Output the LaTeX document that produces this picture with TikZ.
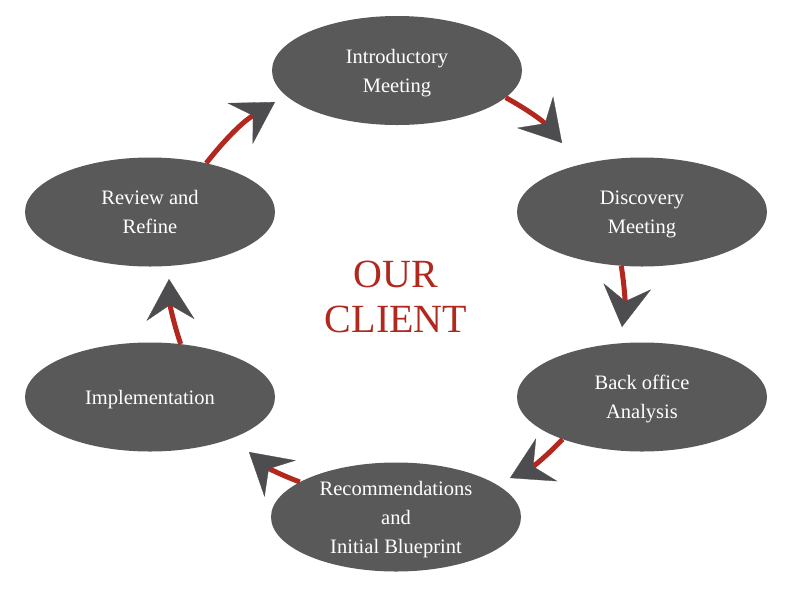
\documentclass[tikz,border=0pt]{standalone}
\usepackage{fontspec}
\setmainfont{Liberation Serif}
\usetikzlibrary{arrows.meta,shapes.geometric}
\definecolor{ellgray}{HTML}{595959}
\definecolor{arrgray}{HTML}{4D4D4F}
\definecolor{linered}{HTML}{B2281E}
\definecolor{titlered}{HTML}{B0281E}
\begin{document}
\begin{tikzpicture}[x=1pt,y=-1pt,
  stage/.style={ellipse,fill=ellgray,draw=none,minimum width=250pt,minimum height=109pt,inner sep=0pt,
    text=white,align=center,text depth=0pt,font=\fontsize{20.5}{29}\selectfont},
  conn/.style={draw=linered,line width=5pt,
    -{Stealth[length=41pt,width=48pt,inset=15pt,color=arrgray,line width=0.3pt]}},
  title/.style={text=titlered,align=center,font=\fontsize{40}{45}\selectfont}]
\useasboundingbox (0,0) rectangle (795,595);
\node[stage] (intro) at (397,70.5) {Introductory\\Meeting};
\node[stage] (disc) at (642,212) {Discovery\\Meeting};
\node[stage] (back) at (642,397) {Back office\\Analysis};
\node[stage] (rec) at (396,517) {Recommendations\\and\\Initial Blueprint};
\node[stage] (impl) at (150,397) {Implementation};
\node[stage] (rev) at (150,212) {Review and\\Refine};
\node[title] (client) at (396,297) {OUR\\CLIENT};
\coordinate (t1) at (562,143);
\coordinate (t2) at (622,327);
\coordinate (t3) at (510,478);
\coordinate (t4) at (249,452);
\coordinate (t5) at (169,279);
\coordinate (t6) at (275,102);
\draw[conn] (intro.-14) to[bend left=10] (t1);
\draw[conn] (disc.-111) to[bend left=8] (t2);
\draw[conn] (back.-152) to[bend left=10] (t3);
\draw[conn] (rec.160) to[bend left=10] (t4);
\draw[conn] (impl.60) to[bend left=8] (t5);
\draw[conn] (rev.41) to[bend left=10] (t6);
\end{tikzpicture}
\end{document}
